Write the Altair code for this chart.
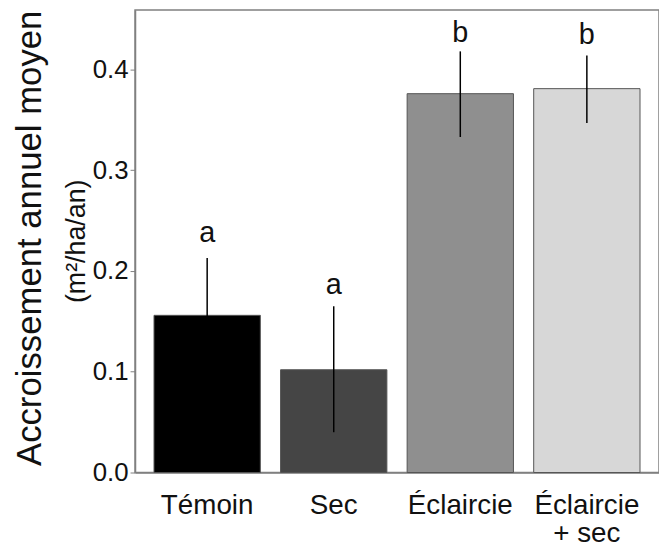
import altair as alt
import pandas as pd

categories = ["Témoin", "Sec", "Éclaircie", "Éclaircie + sec"]
means = [0.156, 0.102, 0.376, 0.381]
err_low = [0.099, 0.040, 0.333, 0.347]
err_high = [0.213, 0.165, 0.418, 0.414]
letters = ["a", "a", "b", "b"]
letter_pos = [0.238, 0.186, 0.436, 0.434]
bar_colors = ["#000000", "#454545", "#8f8f8f", "#d7d7d7"]

df = pd.DataFrame({
    "cat": categories,
    "mean": means,
    "lo": err_low,
    "hi": err_high,
    "letter": letters,
    "lpos": letter_pos,
})

FONT = "Liberation Sans"

x_enc = alt.X(
    "cat:N",
    sort=categories,
    scale=alt.Scale(paddingInner=0.16, paddingOuter=0.15),
    axis=alt.Axis(
        title=None,
        labelAngle=0,
        ticks=False,
        labelFontSize=28,
        labelFont=FONT,
        labelColor="#111111",
        labelPadding=19,
        labelBaseline="top",
        labelLineHeight=29,
        labelExpr="datum.value == 'Éclaircie + sec' ? ['Éclaircie', '+ sec'] : datum.label",
        domainColor="#808080",
        domainWidth=1.5,
        grid=False,
    ),
)

y_scale = alt.Scale(domain=[0, 0.459], nice=False, zero=True)

bars = alt.Chart(df).mark_bar(stroke="#555555", strokeWidth=1).encode(
    x=x_enc,
    y=alt.Y(
        "mean:Q",
        scale=y_scale,
        axis=alt.Axis(
            title=None,
            values=[0, 0.1, 0.2, 0.3, 0.4],
            format=".1f",
            labelFontSize=26,
            labelFont=FONT,
            labelColor="#111111",
            labelPadding=2,
            tickSize=5,
            tickColor="#808080",
            domainColor="#808080",
            domainWidth=1.5,
            grid=False,
        ),
    ),
    color=alt.Color(
        "cat:N",
        scale=alt.Scale(domain=categories, range=bar_colors),
        legend=None,
    ),
)

errs = alt.Chart(df).mark_rule(color="#000000", strokeWidth=1.5).encode(
    x=alt.X("cat:N", sort=categories),
    y=alt.Y("lo:Q", scale=y_scale),
    y2="hi:Q",
)

labels = alt.Chart(df).mark_text(
    fontSize=29, font=FONT, color="#111111", baseline="middle", align="center"
).encode(
    x=alt.X("cat:N", sort=categories),
    y=alt.Y("lpos:Q", scale=y_scale),
    text="letter:N",
)

title_df = pd.DataFrame({"t": ["Accroissement annuel moyen"]})
sub_df = pd.DataFrame({"t": ["(m²/ha/an)"]})

title_main = alt.Chart(title_df).mark_text(
    fontSize=35, font=FONT, color="#111111", angle=270, align="center", baseline="middle"
).encode(x=alt.value(-106), y=alt.value(230), text="t:N")

title_sub = alt.Chart(sub_df).mark_text(
    fontSize=27, font=FONT, color="#111111", angle=270, align="center", baseline="middle"
).encode(x=alt.value(-58), y=alt.value(233), text="t:N")

chart = (
    alt.layer(bars, errs, labels, title_main, title_sub)
    .properties(
        width=528,
        height=466,
        autosize=alt.AutoSizeParams(type="none"),
        padding={"left": 128, "top": 0, "right": 0, "bottom": 74},
    )
    .configure_view(stroke="#808080", strokeWidth=1.5)
)

chart.save("out.html", embed_options={"renderer": "svg", "actions": False})
